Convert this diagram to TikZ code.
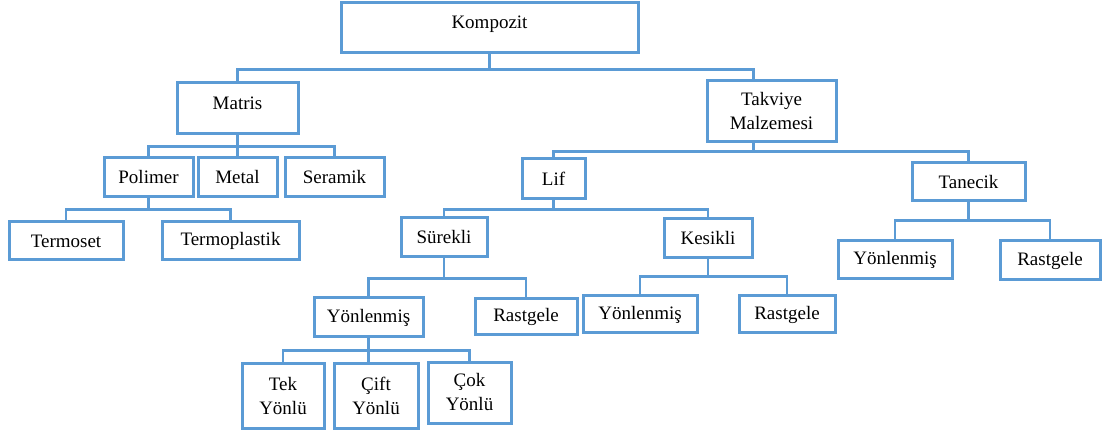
\documentclass[tikz,border=0pt]{standalone}
\usepackage{fontspec}
\setmainfont{Liberation Serif}
\usepackage{xcolor}
\usepackage{tikz}
\usetikzlibrary{positioning}

\definecolor{boxblue}{RGB}{91,155,213}

\begin{document}
\begin{tikzpicture}[
    x=0.5pt, y=-0.5pt,
    box/.style={rectangle, draw=boxblue, line width=1.5pt, align=center,
        inner sep=0pt, font=\fontsize{9.5}{12}\selectfont},
    toptext/.style={text height=7pt, text depth=6.4pt},
    link/.style={draw=boxblue, line width=1.3pt}
]
\useasboundingbox (0,0) rectangle (1107,432);

% Top levels
\node[box, toptext, minimum width=148.5pt, minimum height=25pt] (komp) at (489.5,28) {Kompozit};
\node[box, toptext, minimum width=60.5pt, minimum height=25.5pt] (mat) at (237.5,108.5) {Matris};
\node[box, minimum width=64.5pt, minimum height=30.5pt] (tak) at (771.5,111.5) {Takviye\\Malzemesi};

% Matris branch
\node[box, minimum width=44.5pt, minimum height=19.5pt] (pol) at (148.5,177.5) {Polimer};
\node[box, minimum width=39.5pt, minimum height=19.5pt] (met) at (237.5,177.5) {Metal};
\node[box, minimum width=49.5pt, minimum height=19.5pt] (ser) at (334.5,177.5) {Seramik};
\node[box, minimum width=57pt, minimum height=19pt] (tset) at (66,241) {Termoset};
\node[box, minimum width=68.5pt, minimum height=19pt] (tpla) at (230.5,241) {Termoplastik};

% Takviye branch
\node[box, minimum width=31.5pt, minimum height=20pt] (lif) at (553.5,179) {Lif};
\node[box, minimum width=56.5pt, minimum height=19pt] (tan) at (968.5,182) {Tanecik};
\node[box, minimum width=43pt, minimum height=19.5pt] (sur) at (444,237.5) {Sürekli};
\node[box, minimum width=44pt, minimum height=19.5pt] (kes) at (708,238.5) {Kesikli};
\node[box, minimum width=54.5pt, minimum height=19.5pt] (syon) at (368.5,317.5) {Yönlenmiş};
\node[box, minimum width=51pt, minimum height=18pt] (sras) at (526,317) {Rastgele};
\node[box, minimum width=57pt, minimum height=18.5pt] (kyon) at (640,314.5) {Yönlenmiş};
\node[box, minimum width=48pt, minimum height=18.5pt] (kras) at (787,314.5) {Rastgele};
\node[box, minimum width=57pt, minimum height=19pt] (tyon) at (895,260) {Yönlenmiş};
\node[box, minimum width=50pt, minimum height=19.5pt] (tras) at (1050,260.5) {Rastgele};

% Yonlenmis leaves
\node[box, minimum width=41pt, minimum height=32.5pt] (tek) at (283,395.5) {Tek\\Yönlü};
\node[box, minimum width=42pt, minimum height=32.5pt] (cift) at (376,395.5) {Çift\\Yönlü};
\node[box, minimum width=41.5pt, minimum height=30.5pt] (cok) at (469.5,392.5) {Çok\\Yönlü};

% Connectors
\draw[link] (komp.south) -- ++(0,15) -| (mat.north);
\draw[link] (komp.south) -- ++(0,15) -| ([xshift=-9pt]tak.north);

\foreach \c in {pol, met, ser} {
    \draw[link] (mat.south) -- ++(0,11) -| (\c.north);
}
\foreach \c in {tset, tpla} {
    \draw[link] (pol.south) -- ++(0,11) -| (\c.north);
}
\foreach \c in {lif, tan} {
    \draw[link] ([xshift=-9pt]tak.south) -- ++(0,8) -| (\c.north);
}
\foreach \c in {sur, kes} {
    \draw[link] (lif.south) -- ++(0,9) -| (\c.north);
}
\foreach \c in {syon, sras} {
    \draw[link] (sur.south) -- ++(0,20) -| (\c.north);
}
\foreach \c in {tek, cok} {
    \draw[link] (syon.south) -- ++(0,12) -| (\c.north);
}
\draw[link] (syon.south) -- (syon.south |- cift.north);
\foreach \c in {kyon, kras} {
    \draw[link] (kes.south) -- ++(0,17) -| (\c.north);
}
\foreach \c in {tyon, tras} {
    \draw[link] (tan.south) -- ++(0,18) -| (\c.north);
}

\end{tikzpicture}
\end{document}
